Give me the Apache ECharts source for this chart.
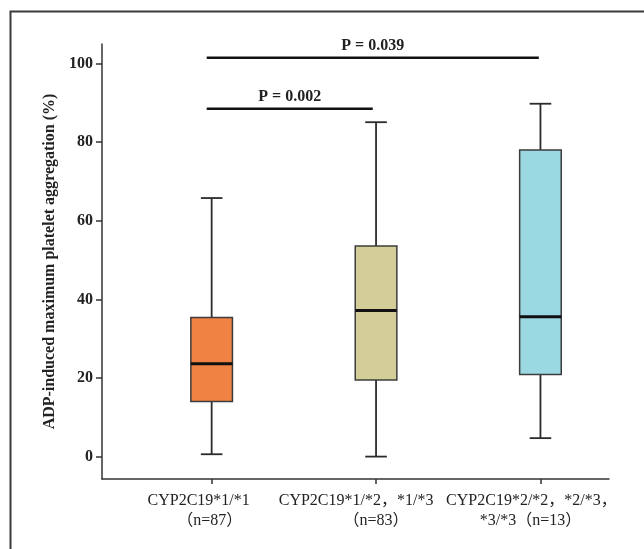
<!DOCTYPE html>
<html>
<head>
<meta charset="utf-8">
<script src="https://cdn.jsdelivr.net/npm/echarts@6/dist/echarts.min.js"></script>
<style>
html,body{margin:0;padding:0;background:#fff;}
#main{width:644px;height:549px;}
</style>
</head>
<body>
<div id="main"></div>
<script>
// ---- data ----
const categories = ['CYP2C19*1/*1\n（n=87）', 'CYP2C19*1/*2，*1/*3\n（n=83）', 'CYP2C19*2/*2，*2/*3，\n*3/*3（n=13）'];
const categoryPositions = [1, 2, 3];
const whiskerMin = [0.6, 0.0, 4.7];
const q1 = [14.0, 19.5, 20.9];
const median = [23.6, 37.2, 35.6];
const q3 = [35.4, 53.6, 78.0];
const whiskerMax = [65.8, 85.1, 89.8];
const boxColors = ['#F08244', '#D3CD97', '#9AD8E2'];
const yTicks = [0, 20, 40, 60, 80, 100];
const pLabels = ['P = 0.002', 'P = 0.039'];
const pFrom = [0.97, 0.97];
const pTo = [1.98, 2.99];
const pLevel = [88.5, 101.5];
const yTitle = 'ADP-induced maximum platelet aggregation (%)';

// ---- build ----
const boxData = categoryPositions.map((x, i) => [x, whiskerMin[i], q1[i], median[i], q3[i], whiskerMax[i]]);
const bracketData = pLabels.map((t, i) => ({value: [pFrom[i], pTo[i], pLevel[i]], name: t}));
const labelData = categoryPositions.map((x, i) => ({value: [x], name: categories[i]}));
const SERIF = '"Liberation Serif","Times New Roman","DejaVu Serif","Noto Sans CJK SC",serif';
// per-label horizontal nudges of the two text lines (style only)
const line1Dx = [-13, -20, -9];
const line2Dx = [-2, 0, -10];

const chart = echarts.init(document.getElementById('main'), null, {renderer: 'canvas'});
chart.setOption({
  backgroundColor: '#fff',
  animation: false,
  graphic: [{
    type: 'rect', left: 8, top: 9, silent: true,
    shape: {x: 0, y: 0, width: 700, height: 600},
    style: {fill: 'none', stroke: '#3a3a3a', lineWidth: 2}
  }],
  grid: {left: 102, top: 44, width: 507, height: 435, containLabel: false},
  xAxis: {
    type: 'value', min: 0.333, max: 3.417,
    splitLine: {show: false},
    axisLine: {onZero: false, lineStyle: {color: '#333', width: 1.5}},
    axisTick: {customValues: categoryPositions, length: 5, lineStyle: {color: '#333', width: 1.5}},
    axisLabel: {show: false}
  },
  yAxis: {
    type: 'value', min: -5.7, max: 105,
    splitLine: {show: false},
    axisLine: {show: true, onZero: false, lineStyle: {color: '#333', width: 1.5}},
    axisTick: {show: true, customValues: yTicks, length: 6, lineStyle: {color: '#333', width: 1.5}},
    axisLabel: {customValues: yTicks, margin: 9, fontFamily: SERIF, fontSize: 16, fontWeight: 'bold', color: '#222'},
    name: yTitle,
    nameLocation: 'middle',
    nameGap: 43,
    nameTextStyle: {fontFamily: SERIF, fontSize: 16, fontWeight: 'bold', color: '#222'}
  },
  series: [{
    type: 'custom',
    data: boxData,
    encode: {x: 0, y: [1, 2, 3, 4, 5]},
    renderItem: function (params, api) {
      const x = api.value(0);
      const i = params.dataIndex;
      const pMin = api.coord([x, api.value(1)]);
      const pQ1 = api.coord([x, api.value(2)]);
      const pMed = api.coord([x, api.value(3)]);
      const pQ3 = api.coord([x, api.value(4)]);
      const pMax = api.coord([x, api.value(5)]);
      const cx = pMin[0];
      const hw = 20.8, cap = 10.8;
      const ls = {stroke: '#2b2b2b', lineWidth: 1.8};
      return {
        type: 'group',
        children: [
          {type: 'line', shape: {x1: cx, y1: pMax[1], x2: cx, y2: pQ3[1]}, style: ls},
          {type: 'line', shape: {x1: cx, y1: pQ1[1], x2: cx, y2: pMin[1]}, style: ls},
          {type: 'line', shape: {x1: cx - cap, y1: pMax[1], x2: cx + cap, y2: pMax[1]}, style: ls},
          {type: 'line', shape: {x1: cx - cap, y1: pMin[1], x2: cx + cap, y2: pMin[1]}, style: ls},
          {type: 'rect', shape: {x: cx - hw, y: pQ3[1], width: 2 * hw, height: pQ1[1] - pQ3[1]},
            style: {fill: boxColors[i], stroke: '#3c3c3c', lineWidth: 1.5}},
          {type: 'line', shape: {x1: cx - hw, y1: pMed[1], x2: cx + hw, y2: pMed[1]},
            style: {stroke: '#111', lineWidth: 3}}
        ]
      };
    }
  }, {
    type: 'custom',
    data: bracketData,
    encode: {x: [0, 1], y: 2},
    renderItem: function (params, api) {
      const a = api.coord([api.value(0), api.value(2)]);
      const b = api.coord([api.value(1), api.value(2)]);
      return {
        type: 'group',
        children: [
          {type: 'line', shape: {x1: a[0], y1: a[1], x2: b[0], y2: b[1]}, style: {stroke: '#111', lineWidth: 2.5}},
          {type: 'text', x: (a[0] + b[0]) / 2, y: a[1] - 12,
            style: {text: pLabels[params.dataIndex], fontFamily: SERIF, fontSize: 16, fontWeight: 'bold',
              fill: '#222', align: 'center', verticalAlign: 'middle'}}
        ]
      };
    }
  }, {
    // category labels under the x axis, positioned through the x scale
    type: 'custom',
    data: labelData,
    encode: {x: 0},
    clip: false,
    silent: true,
    renderItem: function (params, api) {
      const i = params.dataIndex;
      const px = api.coord([api.value(0), 0])[0];
      const axisY = params.coordSys.y + params.coordSys.height;
      const lines = categories[i].split('\n');
      const st = {fontFamily: SERIF, fontSize: 16, fill: '#222', align: 'center', verticalAlign: 'middle'};
      return {
        type: 'group',
        children: [
          {type: 'text', x: px + line1Dx[i], y: axisY + 22, style: Object.assign({text: lines[0]}, st)},
          {type: 'text', x: px + line2Dx[i], y: axisY + 42, style: Object.assign({text: lines[1]}, st)}
        ]
      };
    }
  }]
});
</script>
</body>
</html>
